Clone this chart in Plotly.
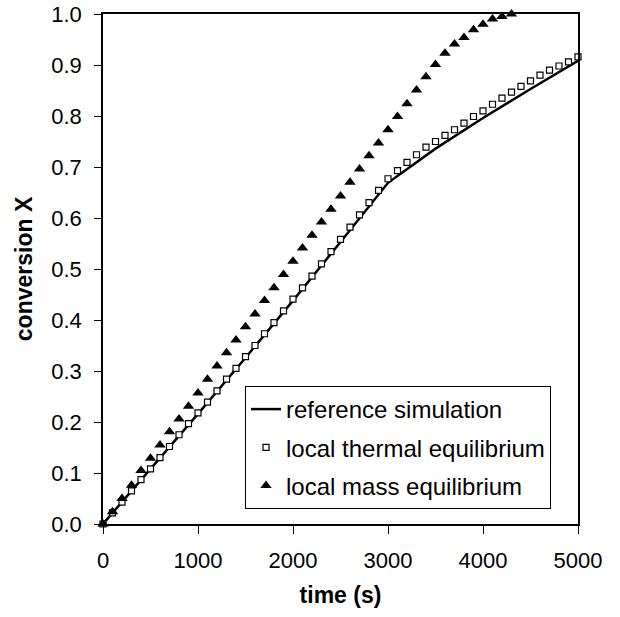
import plotly.graph_objects as go

# reference simulation (solid line)
ref_t = [0, 500, 1000, 1500, 2000, 2500, 3000, 3500, 4000, 4500, 5000]
ref_x = [0.000, 0.107, 0.216, 0.326, 0.438, 0.553, 0.669, 0.736, 0.796, 0.853, 0.908]

# local thermal equilibrium (open squares), every 100 s
lte_t = list(range(0, 5001, 100))
lte_x = [0.000, 0.022, 0.043, 0.065, 0.087, 0.108, 0.130, 0.152, 0.175, 0.197,
         0.218, 0.239, 0.261, 0.284, 0.305, 0.328, 0.350, 0.373, 0.395, 0.418,
         0.441, 0.463, 0.486, 0.510, 0.534, 0.558, 0.582, 0.606, 0.630, 0.654,
         0.677, 0.693, 0.709, 0.724, 0.739, 0.750, 0.762, 0.773, 0.786, 0.799,
         0.810, 0.823, 0.835, 0.847, 0.858, 0.869, 0.880, 0.890, 0.898, 0.906,
         0.916]

# local mass equilibrium (filled triangles), every 100 s up to 4300 s
lme_t = list(range(0, 4301, 100))
lme_x = [0.000, 0.024, 0.050, 0.076, 0.105, 0.129, 0.155, 0.181, 0.206, 0.231,
         0.257, 0.284, 0.310, 0.336, 0.361, 0.387, 0.412, 0.438, 0.463, 0.489,
         0.515, 0.541, 0.566, 0.592, 0.617, 0.643, 0.670, 0.696, 0.722, 0.747,
         0.773, 0.799, 0.824, 0.851, 0.877, 0.901, 0.923, 0.941, 0.954, 0.969,
         0.980, 0.990, 0.995, 1.000]

x_ticks = [0, 1000, 2000, 3000, 4000, 5000]
y_ticks = [0.0, 0.1, 0.2, 0.3, 0.4, 0.5, 0.6, 0.7, 0.8, 0.9, 1.0]
y_tick_labels = ["%.1f" % v for v in y_ticks]

FONT = "Liberation Sans, Arial, sans-serif"

fig = go.Figure()
fig.add_trace(go.Scatter(
    x=ref_t, y=ref_x, mode="lines", name="reference simulation",
    line=dict(color="black", width=2.5), legendgroup="a", cliponaxis=False))
fig.add_trace(go.Scatter(
    x=lte_t, y=lte_x, mode="markers", name="local thermal equilibrium",
    marker=dict(symbol="square", size=6, color="white",
                line=dict(color="black", width=1.2)),
    legendgroup="b", cliponaxis=False))
fig.add_trace(go.Scatter(
    x=lme_t, y=lme_x, mode="markers", name="local mass equilibrium",
    marker=dict(symbol="triangle-up", size=10, color="black",
                line=dict(color="black", width=0)),
    legendgroup="c", cliponaxis=False))

fig.update_layout(
    width=620, height=617,
    margin=dict(l=103, r=42, t=14, b=93, autoexpand=False),
    paper_bgcolor="white", plot_bgcolor="white",
    font=dict(family=FONT, color="black", size=22),
    showlegend=True,
    legend=dict(
        x=0.299, y=0.2706, xanchor="left", yanchor="top",
        bordercolor="black", borderwidth=1, bgcolor="white",
        font=dict(size=24, family=FONT, color="black"),
        tracegroupgap=4, traceorder="grouped", itemwidth=30,
    ),
    xaxis=dict(
        range=[0, 5000], tickvals=x_ticks, ticktext=[str(v) for v in x_ticks],
        showgrid=False, zeroline=False, showline=True, linecolor="black",
        linewidth=1.5, mirror=True, ticks="outside", ticklen=8, tickwidth=1,
        tickcolor="black", tickfont=dict(size=22, family=FONT),
        ticklabelstandoff=8, automargin=False, ticklabeloverflow="allow",
        title=dict(text="<b>time (s)</b>", font=dict(size=23, family=FONT),
                   standoff=15),
    ),
    yaxis=dict(
        range=[0, 1.0], tickvals=y_ticks, ticktext=y_tick_labels,
        showgrid=False, zeroline=False, showline=True, linecolor="black",
        linewidth=1.5, mirror=True, ticks="outside", ticklen=7, tickwidth=1,
        tickcolor="black", tickfont=dict(size=22, family=FONT),
        ticklabelstandoff=8, automargin=False, ticklabeloverflow="allow",
        title=dict(text="<b>conversion X</b>", font=dict(size=23, family=FONT),
                   standoff=12),
    ),
)

fig.write_html("out.html", config={"displayModeBar": False},
               post_script="document.body.style.margin='0px';")
